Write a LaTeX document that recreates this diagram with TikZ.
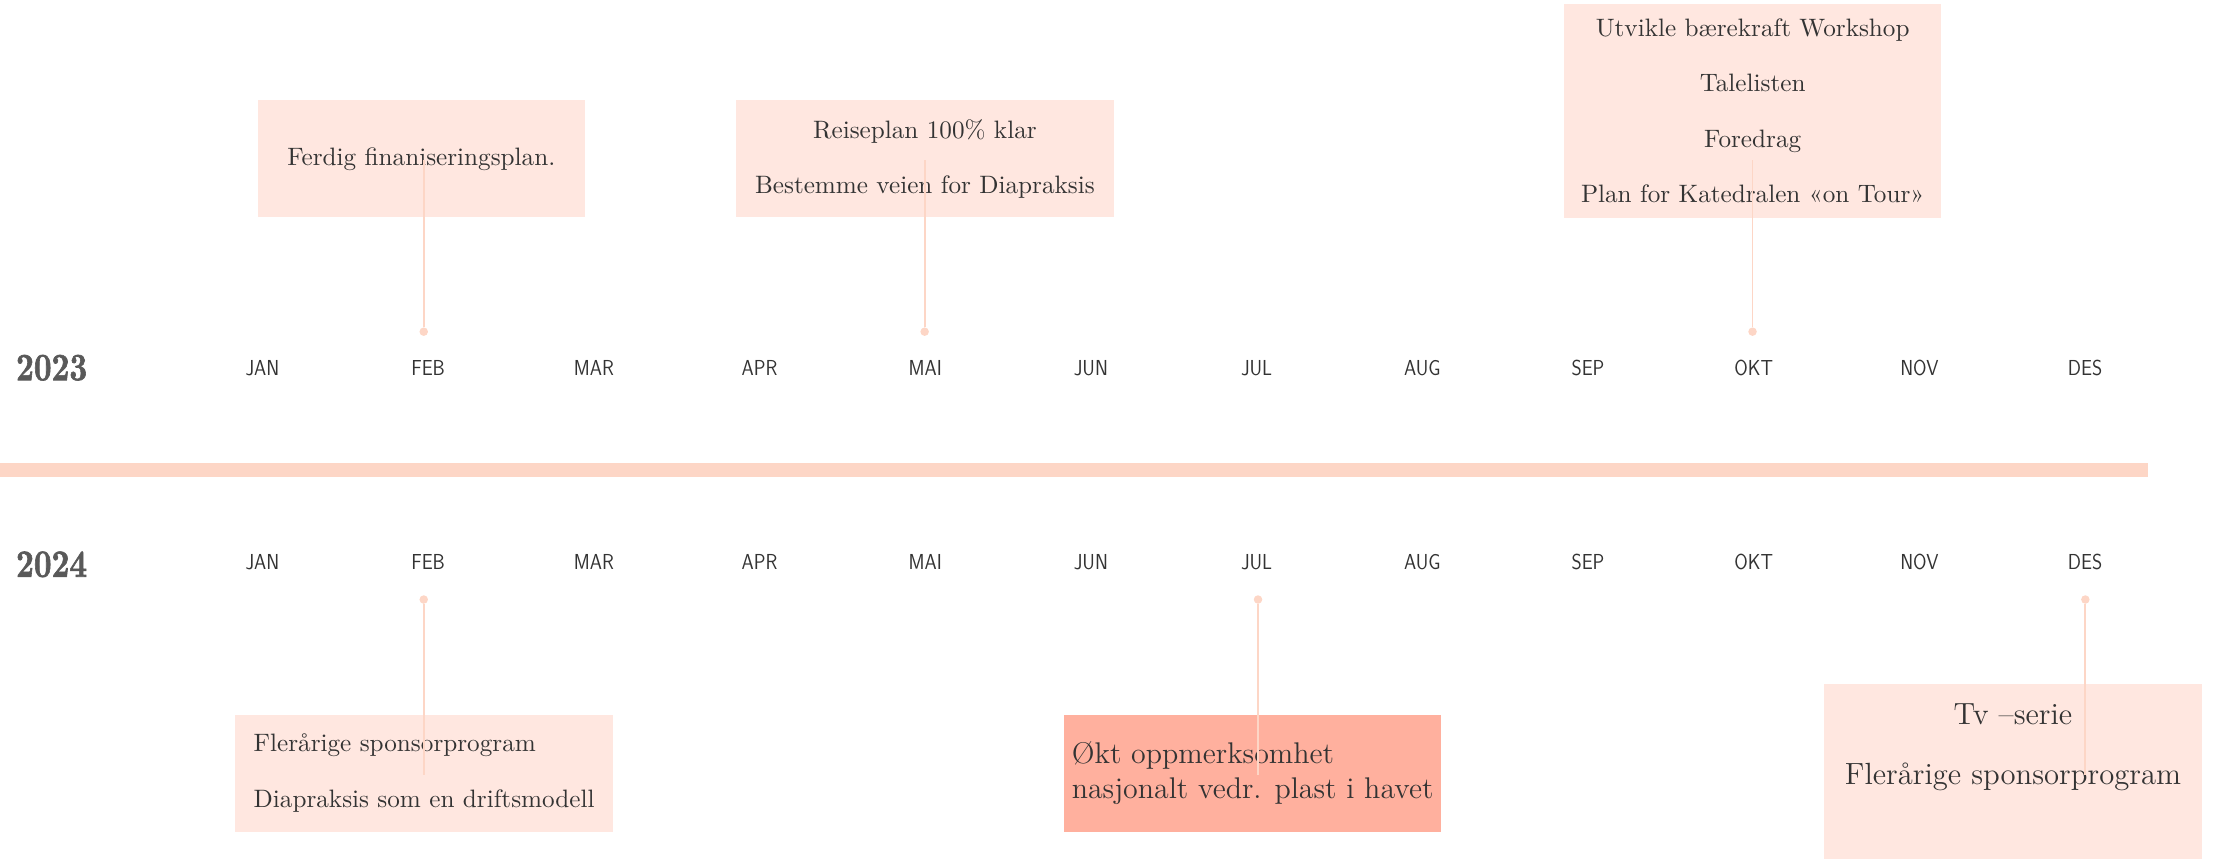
\documentclass[tikz,border=0pt]{standalone}
\usepackage{fontspec}
\newfontfamily\monthfont{lmsans17-regular}[Extension=.otf, FakeStretch=0.9]
\newfontfamily\yearfont{lmroman10-bold}[Extension=.otf, FakeStretch=0.8, FakeBold=1.6]
\definecolor{peach}{HTML}{FDD6C6}
\definecolor{boxpeach}{HTML}{FFE7E0}
\definecolor{salmon}{HTML}{FFB09E}
\definecolor{textgray}{HTML}{333333}
\definecolor{yeargray}{HTML}{595959}
\begin{document}
\begin{tikzpicture}[
    box/.style={rectangle, fill=boxpeach, minimum width=5.32cm, minimum height=1.65cm, inner sep=0pt, align=center, text=textgray, font=\fontsize{10.1}{22.2}\selectfont},
    month/.style={anchor=base, text=textgray, font=\monthfont\fontsize{8.7}{10}\selectfont},
    year/.style={anchor=base west, inner sep=0pt, text=yeargray, font=\yearfont\fontsize{15.5}{18}\selectfont},
    dotnode/.style={circle, fill=peach, inner sep=0pt, minimum size=0.12cm},
    leader/.style={draw=peach, line width=0.75pt}
]
\useasboundingbox (0,0) rectangle (31.2,-12.11);

% Milepæler 2023
\node[box, minimum width=4.61cm] (plan) at (5.94,-2.24) {Ferdig finaniseringsplan.};
\node[box] (reise) at (13.04,-2.24) {Reiseplan 100\% klar\\Bestemme veien for Diapraksis};
\node[box, minimum height=3.01cm] (tale) at (24.71,-1.563) {Utvikle bærekraft Workshop\\Talelisten\\Foredrag\\Plan for Katedralen «on Tour»};

% Milepæler 2024
\node[box, align=left] (sponsor) at (5.98,-10.90) {Flerårige sponsorprogram\\Diapraksis som en driftsmodell};
\node[box, align=left, fill=salmon, font=\fontsize{12}{13.9}\selectfont] (plast) at (17.66,-10.90) {Økt oppmerksomhet\\nasjonalt vedr. plast i havet};
\node[box, anchor=north, text height=1.42cm, text depth=1.3cm, font=\fontsize{12.3}{24.3}\selectfont] (tv) at (28.38,-9.636) {Tv –serie\\Flerårige sponsorprogram};

% Tidslinje
\fill[peach] (0,-6.534) rectangle (30.28,-6.722);

% År
\node[year] (y23) at (0.22,-5.36) {2023};
\node[year] (y24) at (0.22,-8.132) {2024};

% Måneder 2023
\node[month] (jan23) at (3.700,-5.288) {JAN};
\node[month] (feb23) at (6.036,-5.288) {FEB};
\node[month] (mar23) at (8.372,-5.288) {MAR};
\node[month] (apr23) at (10.708,-5.288) {APR};
\node[month] (mai23) at (13.044,-5.288) {MAI};
\node[month] (jun23) at (15.380,-5.288) {JUN};
\node[month] (jul23) at (17.716,-5.288) {JUL};
\node[month] (aug23) at (20.052,-5.288) {AUG};
\node[month] (sep23) at (22.388,-5.288) {SEP};
\node[month] (okt23) at (24.724,-5.288) {OKT};
\node[month] (nov23) at (27.060,-5.288) {NOV};
\node[month] (des23) at (29.396,-5.288) {DES};

% Måneder 2024
\node[month] (jan24) at (3.700,-8.028) {JAN};
\node[month] (feb24) at (6.036,-8.028) {FEB};
\node[month] (mar24) at (8.372,-8.028) {MAR};
\node[month] (apr24) at (10.708,-8.028) {APR};
\node[month] (mai24) at (13.044,-8.028) {MAI};
\node[month] (jun24) at (15.380,-8.028) {JUN};
\node[month] (jul24) at (17.716,-8.028) {JUL};
\node[month] (aug24) at (20.052,-8.028) {AUG};
\node[month] (sep24) at (22.388,-8.028) {SEP};
\node[month] (okt24) at (24.724,-8.028) {OKT};
\node[month] (nov24) at (27.060,-8.028) {NOV};
\node[month] (des24) at (29.396,-8.028) {DES};

% Markører og endepunkter
\node[dotnode] (d1) at (5.974,-4.676) {};
\node[dotnode] (d2) at (13.036,-4.676) {};
\node[dotnode] (d3) at (24.708,-4.676) {};
\node[dotnode] (d4) at (5.974,-8.452) {};
\node[dotnode] (d5) at (17.736,-8.452) {};
\node[dotnode] (d6) at (29.400,-8.452) {};

\coordinate (e1) at (5.974,-2.25);
\coordinate (e2) at (13.036,-2.25);
\coordinate (e3) at (24.708,-2.25);
\coordinate (e4) at (5.974,-10.92);
\coordinate (e5) at (17.736,-10.92);
\coordinate (e6) at (29.400,-10.92);

% Linjer
\draw[leader] (d1) -- (e1);
\draw[leader] (d2) -- (e2);
\draw[leader] (d3) -- (e3);
\draw[leader] (d4) -- (e4);
\draw[leader] (d5) -- (e5);
\draw[leader] (d6) -- (e6);

\end{tikzpicture}
\end{document}
